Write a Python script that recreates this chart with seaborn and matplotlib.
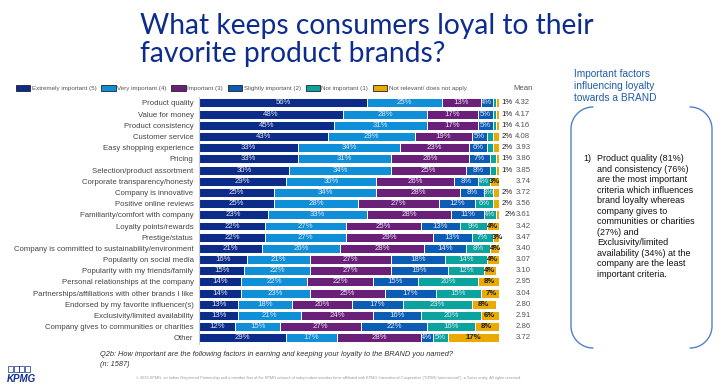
import numpy as np
import pandas as pd
import matplotlib
matplotlib.use("Agg")
import matplotlib.pyplot as plt
from matplotlib.patches import Patch, Rectangle
import seaborn as sns

# ---- data ----
factors = [
    "Product quality", "Value for money", "Product consistency", "Customer service",
    "Easy shopping experience", "Pricing", "Selection/product assortment",
    "Corporate transparency/honesty", "Company is innovative", "Positive online reviews",
    "Familiarity/comfort with company", "Loyalty points/rewards", "Prestige/status",
    "Company is committed to sustainability/environment", "Popularity on social media",
    "Popularity with my friends/family", "Personal relationships at the company",
    "Partnerships/affiliations with other brands I like",
    "Endorsed by my favorite influencer(s)", "Exclusivity/limited availability",
    "Company gives to communities or charities", "Other",
]
extremely = [56, 48, 45, 43, 33, 33, 30, 29, 25, 25, 23, 22, 22, 21, 16, 15, 14, 14, 13, 13, 12, 29]
very = [25, 28, 31, 29, 34, 31, 34, 30, 34, 28, 33, 27, 27, 26, 21, 22, 22, 23, 18, 21, 15, 17]
important = [13, 17, 17, 19, 23, 26, 25, 26, 28, 27, 28, 25, 29, 28, 27, 27, 22, 25, 20, 24, 27, 28]
slightly = [4, 5, 5, 5, 6, 7, 8, 8, 8, 12, 11, 13, 13, 14, 18, 19, 15, 17, 17, 16, 22, 4]
not_imp = [1, 1, 1, 2, 2, 2, 2, 4, 3, 6, 4, 9, 7, 8, 14, 12, 20, 15, 23, 20, 16, 5]
not_rel = [1, 1, 1, 2, 2, 1, 1, 3, 2, 2, 2, 4, 3, 4, 4, 4, 8, 7, 8, 6, 8, 17]
means = [4.32, 4.17, 4.16, 4.08, 3.93, 3.86, 3.85, 3.74, 3.72, 3.56, 3.61, 3.42, 3.47,
         3.40, 3.07, 3.10, 2.95, 3.04, 2.80, 2.91, 2.86, 3.72]

levels = ["Extremely important (5)", "Very important (4)", "Important (3)",
          "Slightly important (2)", "Not important (1)", "Not relevant/ does not apply"]
colors = ["#0C2C8A", "#0E8FD8", "#6A1F78", "#0A5CB5", "#0AA39E", "#EAAA00"]

df = pd.DataFrame({"Factor": factors}).assign(
    **{lvl: vals for lvl, vals in zip(levels, [extremely, very, important, slightly, not_imp, not_rel])}
)
cum = df[levels].cumsum(axis=1)

sns.set_theme(style="white")
plt.rcParams["font.family"] = ["Liberation Sans", "DejaVu Sans"]

fig = plt.figure(figsize=(7.24, 3.86), dpi=100)

# overlay in pixel coordinates for the free text and decorations
ov = fig.add_axes([0, 0, 1, 1])
ov.set_xlim(0, 724)
ov.set_ylim(386, 0)
ov.axis("off")

ax = fig.add_axes([0.275, 0.11, 0.414, 0.638])

# stacked bars: draw cumulative totals from the outermost layer inwards
for i in reversed(range(len(levels))):
    sns.barplot(data=cum.assign(Factor=df["Factor"]), x=levels[i], y="Factor",
                orient="h", color=colors[i], saturation=1, width=0.8,
                edgecolor="white", linewidth=0.7, ax=ax)

label_fs = 5.6
for r, fac in enumerate(factors):
    for i, lvl in enumerate(levels):
        v = df.loc[r, lvl]
        mid = cum.loc[r, lvl] - v / 2
        if i == len(levels) - 1:
            if v >= 3:
                ax.text(mid, r, f"{v}%", ha="center", va="center", fontsize=label_fs,
                        color="#1a1a1a", fontweight="bold")
            else:
                ax.text(cum.loc[r, lvl] + 0.8, r, f"{v}%", ha="left", va="center",
                        fontsize=label_fs, color="#1a1a1a", clip_on=False)
        elif v >= 3:
            ax.text(mid, r, f"{v}%", ha="center", va="center", fontsize=label_fs,
                    color="#E6E6F2")
    ax.text(108, r, f"{means[r]:.2f}", ha="center", va="center", fontsize=label_fs,
            color="#555555", clip_on=False)

ax.text(108, -1.25, "Mean", ha="center", va="center", fontsize=5.6, color="#555555", clip_on=False)

ax.set_xlim(0, 100)
ax.set_ylim(len(factors) - 0.5, -0.5)
ax.set_xlabel("")
ax.set_ylabel("")
ax.set_xticks([])
ax.tick_params(axis="y", length=0, pad=4, labelsize=5.6, labelcolor="#444444")
for s in ["top", "right", "bottom"]:
    ax.spines[s].set_visible(False)
ax.spines["left"].set_color("#cccccc")
ax.spines["left"].set_linewidth(0.8)
ax.set_facecolor("none")

# legend row
handles = [Patch(facecolor=c, edgecolor="#222222", linewidth=0.6) for c in colors]
fig.legend(handles, levels, loc="center left", bbox_to_anchor=(0.022, 1 - 88 / 386),
           ncol=6, frameon=False, fontsize=4.5, handlelength=2.3, handleheight=1.3,
           handletextpad=0.25, columnspacing=0.75, labelcolor="#555555",
           borderaxespad=0, borderpad=0)

# title
ov.text(140, 40, "What keeps consumers loyal to their\nfavorite product brands?",
        ha="left", va="center", fontsize=20.3, color="#0C2D8F",
        family=["Lato", "DejaVu Sans"], linespacing=1.12)

# right-hand commentary
ov.text(574, 86, "Important factors\ninfluencing loyalty\ntowards a BRAND", ha="left",
        va="center", fontsize=7.3, color="#1F5BAA", linespacing=1.25)

box_col = "#4F82CC"
r_c = 22
t = np.linspace(0, np.pi / 2, 30)
left_x = np.concatenate([593 - r_c * np.sin(t), [571, 571], 593 - r_c * np.cos(t)])
left_y = np.concatenate([129 - r_c * np.cos(t), [129, 326], 326 + r_c * np.sin(t)])
ov.plot(left_x, left_y, color=box_col, lw=1.0)
ov.plot(1283 - left_x, left_y, color=box_col, lw=1.0)

ov.text(583, 154, "1)", ha="left", va="top", fontsize=6.5, color="#111111")
ov.text(597, 154,
        "Product quality (81%)\nand consistency (76%)\nare the most important\n"
        "criteria which influences\nbrand loyalty whereas\ncompany gives to\n"
        "communities or charities\n(27%) and\nExclusivity/limited\n"
        "availability (34%) at the\ncompany are the least\nimportant criteria.",
        ha="left", va="top", fontsize=6.5, color="#111111", linespacing=1.22)

# footer
ov.text(100, 355, "Q2b: How important are the following factors in earning and keeping "
        "your loyalty to the BRAND you named?", ha="left", va="center", fontsize=5.3,
        style="italic", color="#333333")
ov.text(100, 364, "(n: 1587)", ha="left", va="center", fontsize=5.3, style="italic",
        color="#333333")
ov.text(136, 378, "\u00a9 2019 KPMG, an Indian Registered Partnership and a member firm of the "
        "KPMG network of independent member firms affiliated with KPMG International "
        "Cooperative (\"KPMG International\"), a Swiss entity. All rights reserved.",
        ha="left", va="center", fontsize=2.8, color="#999999")

for k in range(4):
    ov.add_patch(Rectangle((8 + k * 5.6, 366), 5, 6, fill=False, edgecolor="#0C2D8F", lw=0.5))
ov.text(7, 379, "KPMG", ha="left", va="center", fontsize=7, fontweight="bold",
        style="italic", color="#0C2D8F")

fig.savefig("out.png", dpi=100)
